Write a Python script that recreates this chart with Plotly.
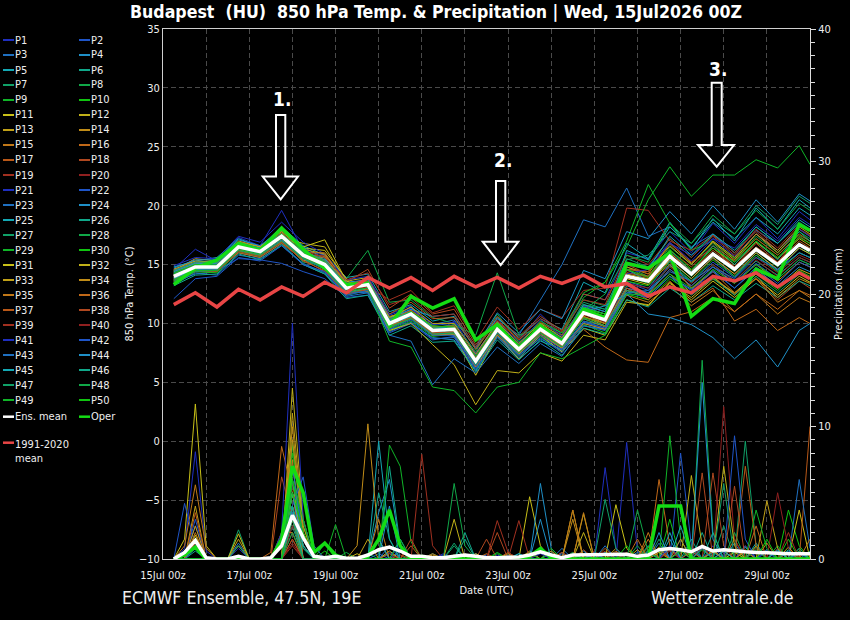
import pandas as pd
import plotly.graph_objects as go

# ---------------- data ----------------
temp_times = list(pd.date_range("2026-07-15 06:00", "2026-07-29 18:00", freq="12h")) + [pd.Timestamp("2026-07-30 00:00")]
precip_times = list(pd.date_range("2026-07-15 06:00", "2026-07-30 00:00", freq="6h"))

member_names = [f"P{i}" for i in range(1, 51)]

ens_mean_temp = [14.0, 14.8, 14.8, 16.5, 16.1, 17.4, 15.8, 15.0, 13.0, 13.3,
                 10.0, 10.8, 9.4, 9.5, 6.8, 9.5, 7.8, 9.5, 8.3, 10.9,
                 10.3, 14.0, 13.6, 15.7, 14.2, 15.9, 14.6, 16.3, 15.0, 16.7, 16.2]
oper_temp = [13.3, 14.7, 15.4, 16.8, 16.2, 18.1, 16.3, 14.7, 13.3, 13.4,
             9.8, 12.3, 11.3, 12.1, 8.6, 9.9, 7.9, 9.8, 8.4, 11.2,
             10.5, 15.1, 14.7, 16.0, 10.6, 12.1, 11.7, 14.6, 13.8, 18.4, 17.9]
clim_temp = [11.6, 12.6, 11.4, 12.9, 12.0, 13.1, 12.3, 13.5, 12.6, 13.9,
             13.0, 13.9, 12.8, 14.0, 13.1, 13.9, 13.0, 14.0, 13.4, 14.1,
             13.1, 13.4, 12.3, 13.1, 12.6, 14.0, 13.6, 14.3, 13.1, 14.3, 13.8]

member_temp = [
 [14.6,16.3,15.3,17.3,16.6,19.6,16.2,15.8,13.6,13.0,10.8,11.5,9.0,10.2,7.5,10.0,8.5,10.8,9.0,12.5,12.0,16.0,15.5,17.8,16.0,18.5,16.8,19.0,17.2,19.5,18.8],
 [13.8,15.2,15.0,16.8,16.4,17.8,15.5,14.6,12.6,13.8,10.5,11.2,10.0,9.8,7.2,10.2,8.2,9.8,8.8,11.4,10.8,13.5,12.8,15.0,13.6,15.2,13.9,15.8,14.4,16.0,15.6],
 [14.3,14.9,15.2,16.2,15.8,17.0,15.9,15.3,13.4,12.9,9.6,10.4,9.9,10.3,7.9,10.4,9.0,12.0,15.0,18.8,18.2,21.5,17.4,18.2,16.5,17.6,16.0,17.9,16.8,18.5,17.9],
 [13.5,14.2,14.4,16.0,15.6,16.8,15.0,14.2,12.5,12.8,9.5,10.0,8.8,8.6,6.0,8.8,7.0,8.5,7.8,9.8,9.5,12.8,12.2,14.0,12.9,14.5,13.0,14.6,13.2,14.8,14.4],
 [14.8,15.3,15.6,17.2,16.5,18.2,16.6,15.8,13.9,14.2,11.0,11.6,10.2,10.6,7.8,10.5,8.8,10.4,9.5,13.5,12.6,16.8,15.5,18.6,16.3,18.9,17.0,19.8,18.0,20.5,19.8],
 [13.9,14.6,14.7,16.3,15.9,17.2,15.4,14.8,12.8,13.4,9.8,10.5,9.2,9.0,6.5,9.2,7.4,9.2,7.9,10.2,9.8,13.2,12.6,14.9,13.5,15.0,13.6,15.3,14.1,15.6,15.2],
 [14.1,15.0,14.9,16.7,16.2,17.6,16.0,15.6,13.4,12.6,10.3,11.0,9.6,9.9,7.0,9.8,8.0,9.9,8.6,11.8,11.2,15.5,14.8,17.2,15.6,17.5,16.0,18.2,16.8,18.6,18.0],
 [13.6,14.5,14.6,16.4,16.0,17.1,15.2,14.9,13.8,16.2,11.8,12.0,10.5,10.0,7.6,10.8,8.4,10.0,9.2,12.0,11.5,14.8,14.0,16.5,15.0,16.8,15.2,17.4,16.0,17.8,17.2],
 [14.2,14.7,14.9,16.6,16.2,17.5,15.9,15.1,12.9,13.1,9.9,10.9,9.5,9.4,6.9,9.6,7.7,9.8,9.0,12.2,13.5,17.0,21.8,18.5,16.2,17.0,15.5,17.2,15.8,17.5,17.0],
 [13.4,14.4,14.3,16.1,15.7,17.0,15.6,14.6,12.4,12.8,9.4,10.2,8.9,9.1,6.4,9.0,7.2,8.9,7.6,9.9,9.2,12.5,12.0,13.8,12.6,13.9,12.5,14.2,12.8,14.5,14.0],
 [14.4,15.1,15.0,16.9,16.5,17.9,16.4,16.2,13.8,13.0,10.4,11.4,9.7,9.0,5.6,9.0,7.0,9.0,7.6,9.6,9.0,12.0,11.5,13.5,12.0,13.6,12.2,13.8,12.4,14.0,13.5],
 [13.7,14.6,14.5,16.4,15.9,17.3,16.8,16.5,13.6,13.9,10.6,11.0,9.0,9.3,6.6,9.4,7.6,9.4,8.0,10.5,10.0,14.2,13.8,16.0,14.5,16.4,15.0,16.9,15.5,17.2,16.6],
 [14.5,15.5,15.3,16.8,16.3,17.2,16.0,15.4,12.8,13.5,10.2,11.1,9.8,9.6,7.0,9.8,7.9,9.6,8.5,11.0,10.5,14.8,14.2,16.8,15.1,16.9,15.4,17.6,16.0,18.0,17.4],
 [13.9,14.5,14.6,16.2,15.8,16.9,15.7,15.6,13.2,12.7,9.7,10.6,9.3,9.7,7.3,9.9,8.1,9.8,8.4,10.6,9.8,13.0,12.5,14.6,13.2,14.8,13.4,15.0,13.6,15.2,14.8],
 [14.1,14.9,15.1,16.6,16.0,17.6,16.3,15.2,13.1,13.6,10.1,10.6,9.1,9.2,6.7,9.3,7.6,9.3,8.1,10.4,9.7,12.4,11.8,13.2,11.5,12.8,11.0,12.5,10.8,12.2,11.8],
 [13.6,14.4,14.5,16.0,15.6,16.8,15.4,14.4,12.6,12.9,9.6,10.4,9.1,9.2,6.6,9.1,7.5,9.0,7.9,9.5,8.0,6.9,6.7,10.5,11.0,12.2,11.0,12.5,11.2,12.8,12.4],
 [14.0,14.7,14.9,16.5,16.2,17.3,16.1,15.3,13.3,13.8,10.8,11.8,10.4,10.5,7.8,10.2,8.6,10.1,9.0,11.5,11.0,14.5,14.0,16.0,14.4,16.2,14.8,16.5,15.2,17.0,16.4],
 [14.3,15.0,14.8,16.6,16.0,17.5,15.7,15.8,13.5,14.6,11.3,12.5,10.8,11.2,8.2,10.6,8.9,10.6,9.4,12.5,12.0,15.0,14.2,15.2,13.0,14.0,12.5,13.8,12.0,13.6,13.0],
 [13.8,14.6,14.7,16.3,16.1,17.1,15.6,14.7,12.9,13.2,12.0,12.8,10.9,11.5,8.5,11.4,9.5,11.2,10.5,12.8,13.0,19.8,19.6,17.0,16.2,17.5,16.0,17.8,16.2,18.0,17.5],
 [14.6,15.2,15.1,16.7,16.4,17.7,16.0,15.0,13.0,13.5,10.2,11.0,9.6,9.8,7.1,9.7,8.0,9.7,8.5,11.2,10.6,14.3,13.9,15.8,14.0,15.5,14.2,15.6,14.3,15.8,15.4],
 [14.9,15.6,15.5,17.4,16.9,18.6,16.9,15.9,13.7,14.0,10.7,11.3,9.9,10.1,7.3,10.1,8.3,10.3,8.9,11.5,11.0,15.2,14.8,16.9,15.3,17.2,15.7,17.6,16.2,18.0,17.4],
 [14.2,15.0,14.5,15.5,15.4,15.1,14.4,13.8,12.2,12.4,9.2,10.0,8.6,8.9,6.2,9.0,7.1,8.8,7.5,10.0,9.5,13.0,12.6,14.6,13.2,14.8,13.5,15.1,13.8,15.4,15.0],
 [13.3,14.3,14.1,15.8,15.5,16.6,15.1,14.3,12.3,12.6,9.3,10.1,8.7,8.8,6.1,8.9,7.3,8.7,7.7,10.1,9.6,13.6,13.0,15.3,13.8,15.6,14.0,16.0,14.5,16.4,15.9],
 [14.7,15.4,15.4,17.1,16.6,18.0,16.5,15.5,13.5,13.7,10.4,11.2,10.6,10.8,8.0,10.9,9.2,11.2,10.4,14.5,13.8,17.8,17.2,19.5,17.6,20.0,18.0,20.5,18.6,21.0,20.4],
 [14.0,14.9,14.6,16.5,16.0,17.3,15.8,15.1,13.1,13.4,10.0,10.7,9.3,9.5,6.8,9.5,7.8,9.6,8.3,11.0,10.4,16.2,15.4,18.2,16.4,18.6,17.2,19.0,17.6,19.8,19.2],
 [13.2,14.1,14.2,15.9,15.4,16.7,15.0,14.2,12.1,12.4,9.0,9.8,8.4,8.5,5.9,8.6,6.9,8.6,7.3,9.6,9.1,12.0,11.4,13.0,11.8,13.2,12.0,13.4,12.2,13.6,13.2],
 [14.4,15.2,15.3,16.9,16.4,17.8,16.2,15.3,13.2,13.6,10.4,11.0,9.6,9.8,7.0,9.8,8.1,9.8,8.7,11.6,11.2,15.4,15.8,17.8,16.8,18.8,17.6,20.0,18.4,20.8,20.2],
 [13.7,14.6,14.6,16.3,15.9,17.2,15.6,14.8,12.8,13.2,9.9,10.6,9.3,9.9,9.0,14.3,9.0,9.6,8.2,10.8,10.2,14.0,13.4,15.6,14.0,15.8,14.4,16.2,14.8,16.6,16.0],
 [14.3,15.0,14.9,16.6,16.1,17.4,15.9,15.2,13.0,13.4,10.1,11.0,9.6,9.6,7.0,9.8,8.2,10.2,9.2,12.6,13.5,16.5,20.5,23.3,20.8,22.6,22.6,23.9,23.2,25.1,23.5],
 [13.5,14.4,14.4,16.2,15.7,17.0,15.5,14.7,12.6,13.0,9.6,10.4,9.0,9.2,6.5,9.2,7.5,9.2,8.0,10.5,10.0,13.6,13.2,15.2,13.6,15.4,14.0,15.8,14.4,16.0,15.6],
 [14.1,14.9,15.0,16.6,16.2,17.4,16.5,17.1,13.6,13.0,10.3,10.9,9.5,9.6,6.9,9.6,7.9,9.6,8.4,10.8,10.0,13.8,13.3,15.4,13.8,15.6,14.2,16.0,14.6,16.4,15.9],
 [13.9,14.7,14.6,16.3,15.9,17.2,15.6,14.8,12.7,12.9,9.4,10.0,8.2,6.5,3.1,6.0,5.8,7.5,6.8,9.0,8.6,11.8,11.6,13.4,12.2,13.8,12.6,14.2,13.0,14.6,14.2],
 [14.6,15.3,15.2,17.0,16.5,17.8,16.3,15.9,13.4,13.2,10.5,11.4,10.0,10.0,7.4,10.1,8.3,10.0,8.8,11.3,10.8,14.6,14.4,16.6,15.0,17.0,15.6,17.6,16.2,18.2,17.6],
 [13.7,14.5,14.5,16.2,15.8,17.0,15.3,15.7,13.2,13.0,9.8,10.5,9.0,9.1,6.3,9.0,7.4,9.1,7.9,10.0,9.5,12.8,12.4,14.2,12.6,14.0,12.4,14.0,12.2,13.8,13.4],
 [14.2,15.1,14.9,16.7,16.2,17.6,16.0,16.0,13.3,13.5,10.2,11.1,9.7,9.7,7.1,9.7,7.9,9.7,8.5,11.0,10.4,14.0,13.5,15.0,13.0,14.4,12.6,13.8,11.8,12.8,12.2],
 [13.8,14.6,14.7,16.4,15.9,17.2,15.7,14.9,12.9,13.2,9.8,10.7,9.2,9.3,6.6,9.3,7.6,9.3,8.1,10.6,10.0,13.0,12.0,13.6,11.8,13.0,10.2,11.2,9.4,10.5,10.0],
 [14.5,15.2,15.1,16.8,16.3,17.7,16.1,15.4,13.4,13.6,10.3,11.1,9.7,9.8,7.1,9.8,8.1,9.8,8.6,11.1,10.6,14.3,14.0,16.2,14.8,16.6,15.3,17.2,15.8,17.6,17.0],
 [13.6,14.4,14.4,16.1,15.7,16.9,15.3,14.5,12.5,12.9,9.7,10.5,9.2,9.3,6.7,9.3,7.7,9.4,8.2,10.7,10.4,14.6,14.4,16.8,15.2,16.4,14.8,16.8,15.2,17.4,16.8],
 [14.1,14.8,14.8,16.5,16.1,17.5,16.2,15.6,13.7,14.3,11.6,12.2,10.6,10.8,8.0,10.3,8.7,10.4,9.3,12.0,11.6,15.8,15.0,17.2,15.6,17.4,15.8,18.0,16.4,18.4,17.8],
 [14.0,14.7,14.7,16.4,16.0,17.3,15.6,14.9,12.8,13.1,9.9,10.8,9.4,9.4,6.8,9.4,7.8,9.4,8.3,10.8,10.1,13.4,13.0,14.8,13.4,15.0,13.6,15.4,14.0,15.6,15.2],
 [14.2,14.9,15.0,16.6,16.3,17.6,15.9,15.1,13.0,13.3,10.1,10.9,9.5,9.6,6.9,9.6,7.9,9.6,8.4,11.0,10.4,14.2,14.6,16.8,15.8,17.2,16.4,18.4,17.0,19.0,18.4],
 [12.1,13.8,14.0,15.6,15.3,16.6,15.0,14.4,12.4,12.8,9.5,10.3,9.0,9.0,6.4,9.2,7.3,9.0,7.8,10.2,9.6,12.6,12.2,14.0,12.8,14.4,13.0,14.8,13.4,15.2,14.8],
 [13.9,14.6,14.6,16.4,15.9,17.1,15.5,14.7,12.7,12.6,9.0,8.5,4.8,7.0,5.8,8.0,6.6,8.3,7.2,9.8,9.4,12.6,12.8,14.4,13.6,14.8,13.8,15.6,14.6,16.0,15.6],
 [14.4,15.1,15.1,16.8,16.3,17.6,16.0,15.2,13.2,13.4,10.2,10.9,9.5,9.6,6.9,9.6,7.9,9.6,8.5,11.0,11.5,12.5,10.8,10.5,9.9,8.8,7.0,8.6,6.3,9.4,10.0],
 [13.8,14.6,14.7,16.4,15.9,17.3,15.7,14.9,12.9,13.2,9.9,10.6,9.3,9.4,6.7,9.4,7.7,9.4,8.2,11.6,11.0,15.0,14.6,17.4,15.8,17.6,16.2,18.2,16.8,18.8,18.2],
 [14.5,15.2,15.2,16.8,16.4,17.6,16.1,15.4,13.3,13.5,10.3,11.0,9.7,9.6,7.0,9.7,8.0,9.8,8.6,11.4,10.8,14.6,13.6,16.2,14.4,16.6,15.0,17.0,15.4,17.8,17.0],
 [13.6,14.4,14.5,16.2,15.8,17.0,15.5,14.6,12.6,13.0,9.7,10.4,9.1,9.2,6.5,9.2,7.5,9.2,8.0,10.4,9.8,12.8,12.4,14.0,12.4,13.8,12.4,14.0,12.6,14.2,13.8],
 [14.3,15.0,15.0,16.7,16.2,17.5,15.9,15.0,13.0,13.4,10.1,10.9,9.5,9.6,6.9,9.6,7.9,9.6,8.4,11.1,12.5,15.8,15.2,18.5,16.8,19.2,17.6,19.6,18.0,20.2,19.6],
 [13.7,14.5,14.5,16.3,15.9,17.2,15.6,14.8,12.8,13.0,8.5,8.0,4.6,4.3,2.4,4.6,5.0,7.5,7.0,8.0,9.0,12.5,12.4,14.2,13.0,14.6,13.4,15.0,13.8,15.4,15.0],
 [14.2,15.0,14.9,16.6,16.2,17.6,16.0,15.2,13.1,13.5,10.0,11.0,9.8,9.7,7.2,9.9,8.0,9.9,8.6,11.3,10.8,14.6,13.9,16.3,14.6,16.4,15.2,17.0,15.6,17.3,16.8],
]

ens_mean_precip = [0, 0.5, 1.4, 0.1, 0, 0, 0.2, 0, 0, 0.1,
                   1.0, 3.3, 1.6, 0.2, 0.1, 0.2, 0.05, 0.05, 0.3, 0.7,
                   0.9, 0.6, 0.2, 0.2, 0.1, 0.1, 0.2, 0.3, 0.2, 0.1,
                   0.1, 0.1, 0.15, 0.3, 0.55, 0.3, 0.1, 0.3, 0.3, 0.3,
                   0.35, 0.3, 0.35, 0.2, 0.3, 0.7, 0.8, 0.7, 0.55, 0.95,
                   0.6, 0.7, 0.6, 0.55, 0.5, 0.45, 0.4, 0.4, 0.4, 0.4]
oper_precip = [0, 0.3, 0.9, 0, 0, 0, 0.1, 0, 0, 0,
               1.5, 7.0, 5.0, 0.5, 1.2, 0.3, 0, 0, 0.2, 1.5,
               3.7, 1.0, 0, 0, 0, 0, 0, 0, 0, 0,
               0, 0, 0, 0.2, 0.8, 0.1, 0, 0, 0, 0,
               0, 0, 0, 0, 0, 4.0, 4.0, 4.0, 0, 0,
               0, 0, 0, 0, 0, 0, 0, 0, 0, 0]

# member precipitation: non-zero 6-hourly amounts {step index: mm}
member_precip_events = [
 {1:0.8, 2:8.1, 3:0.6, 6:0.8, 11:3.0, 12:1.0, 20:0.5, 30:0.3, 36:0.5, 42:8.8, 43:0.6, 47:0.6, 50:1.0, 55:0.5, 58:0.4},
 {2:3.0, 11:6.0, 12:1.5, 19:0.4, 25:0.3, 41:0.5, 47:8.0, 48:1.0, 53:0.6, 56:0.8},
 {2:1.2, 6:1.2, 11:5.0, 12:2.0, 21:0.6, 28:0.4, 36:0.8, 44:0.6, 49:0.8, 52:1.2, 57:0.5},
 {2:1.5, 11:3.5, 19:3.5, 20:6.0, 21:0.8, 31:0.3, 38:0.6, 44:1.0, 50:0.7, 57:0.6},
 {2:1.0, 11:4.0, 12:0.8, 19:8.9, 20:1.5, 24:0.4, 40:0.5, 46:1.5, 53:0.9, 58:0.8},
 {2:0.6, 11:2.5, 20:7.0, 21:1.0, 33:0.5, 42:0.4, 49:2.0, 55:0.7},
 {6:2.2, 11:3.0, 18:0.4, 26:1.2, 35:0.6, 45:1.5, 48:0.8, 51:2.5, 58:0.6},
 {11:7.0, 12:2.0, 16:0.5, 22:0.3, 37:0.5, 43:1.0, 49:15.0, 50:2.0, 54:0.9},
 {11:9.0, 12:3.0, 14:1.2, 20:8.6, 21:7.0, 22:1.3, 30:0.5, 44:0.7, 52:0.6, 56:1.0},
 {11:8.0, 12:2.5, 14:0.6, 27:0.4, 39:0.5, 46:3.0, 50:0.6, 57:3.7, 58:1.0},
 {1:1.5, 2:11.7, 3:1.0, 6:1.9, 11:3.0, 20:0.6, 33:4.7, 34:1.0, 45:0.8, 52:0.5, 58:3.7},
 {6:1.0, 11:12.9, 12:3.0, 17:0.4, 33:0.6, 38:3.4, 43:0.7, 48:6.3, 49:1.0, 57:0.9},
 {2:4.0, 6:1.5, 11:6.0, 18:1.5, 26:0.3, 37:3.7, 41:0.8, 46:0.8, 54:1.0, 58:0.6},
 {2:1.3, 11:10.0, 12:2.0, 17:1.0, 18:10.2, 19:1.5, 35:0.6, 45:0.9, 50:0.7, 55:1.2},
 {1:1.0, 2:5.6, 3:0.8, 11:7.5, 19:3.0, 24:0.4, 37:3.7, 41:0.6, 44:1.5, 53:1.0},
 {9:0.5, 10:8.5, 11:5.0, 20:0.4, 34:0.6, 45:6.0, 46:1.0, 49:0.8, 52:1.5, 57:0.5},
 {2:3.5, 11:5.0, 22:1.0, 31:0.5, 40:0.8, 46:0.9, 53:0.7, 59:10.0},
 {10:6.2, 11:3.0, 21:0.3, 29:1.5, 38:0.7, 44:0.9, 50:6.5, 51:1.0, 56:0.6},
 {11:2.0, 23:7.9, 24:1.0, 32:2.9, 40:0.6, 49:1.0, 54:0.8},
 {11:2.5, 12:1.0, 27:0.4, 39:0.6, 46:0.7, 51:11.5, 52:1.5, 56:0.8},
 {2:2.5, 11:4.0, 12:1.0, 25:0.4, 40:6.9, 41:0.8, 48:0.6, 53:1.0},
 {1:4.2, 2:1.0, 11:3.0, 12:1.5, 29:0.3, 39:0.5, 47:1.5, 55:0.7},
 {2:1.0, 11:3.5, 20:1.0, 36:0.4, 45:1.2, 51:0.6, 58:6.0, 59:0.8},
 {11:6.0, 12:1.5, 20:4.0, 34:5.7, 35:0.8, 43:0.5, 49:13.3, 50:1.5, 56:0.6},
 {11:5.0, 12:1.0, 21:1.5, 32:0.4, 46:2.0, 50:0.5, 54:1.2},
 {11:3.0, 19:5.0, 20:1.5, 27:2.0, 38:0.4, 48:1.5, 57:0.7},
 {6:1.0, 11:3.0, 12:0.8, 26:1.0, 41:0.5, 53:8.9, 54:1.0, 59:0.6},
 {11:4.0, 26:5.7, 27:1.0, 35:0.4, 44:1.0, 52:2.0, 58:0.8},
 {11:8.5, 12:2.0, 15:2.6, 30:0.4, 46:9.3, 47:1.5, 55:0.6},
 {11:6.0, 12:1.5, 23:0.3, 35:0.8, 49:0.7, 57:1.5},
 {2:1.8, 11:5.0, 12:1.0, 28:0.4, 41:4.1, 42:0.8, 51:0.6},
 {11:4.0, 26:3.0, 38:2.0, 45:0.5, 51:7.0, 52:1.0},
 {2:2.5, 11:11.0, 12:2.5, 31:0.4, 47:0.8, 55:4.4, 56:0.8},
 {11:9.0, 12:2.0, 24:0.3, 37:3.0, 47:1.5, 53:0.6},
 {2:2.0, 11:3.0, 33:0.5, 38:3.5, 44:2.0, 50:0.6, 59:1.5},
 {10:2.0, 11:2.0, 29:0.4, 43:1.5, 48:0.6, 54:2.5},
 {2:1.2, 11:1.5, 36:0.5, 45:0.7, 53:7.0, 54:1.0},
 {11:1.5, 22:1.5, 30:2.0, 42:0.5, 49:6.5, 52:5.5},
 {11:1.0, 30:2.9, 31:0.5, 46:0.6, 57:2.0},
 {11:1.2, 27:0.3, 41:0.5, 56:5.0, 57:0.8},
 {10:2.0, 11:17.8, 12:3.0, 34:0.4, 46:1.0, 55:0.6},
 {11:4.0, 12:6.2, 13:1.0, 39:0.4, 52:9.3, 53:1.5},
 {2:0.8, 11:7.0, 12:1.5, 27:0.3, 40:1.0, 49:0.8, 58:0.5},
 {11:5.0, 12:1.0, 34:3.0, 45:2.0, 51:0.6},
 {11:4.0, 19:1.5, 32:0.4, 47:2.5, 56:0.7},
 {11:4.0, 12:1.0, 27:1.5, 44:0.5, 50:2.0},
 {11:3.0, 37:0.4, 40:4.5, 41:0.8, 51:5.7, 58:0.6},
 {11:2.0, 21:1.5, 43:3.7, 44:0.5, 54:0.7},
 {11:6.0, 12:3.0, 33:0.4, 47:0.6, 54:3.7, 55:0.8},
 {11:5.0, 12:2.0, 26:0.3, 42:1.0, 55:1.5},
]

x_range = ["2026-07-15 00:00", "2026-07-30 00:00"]

# ---------------- style ----------------
MEMBER_COLORS = ['#1f2fbf', '#1f55c8', '#1f70c0', '#1f90c8', '#14a8b4', '#10a88a', '#10a068', '#10a848',
                 '#10b428', '#10c410', '#c8c018', '#c0b018', '#c0a018', '#c08c18', '#c07818', '#c06818',
                 '#b85818', '#b04820', '#a03020', '#902020']
OPER_COLOR = '#14dc14'
MEAN_COLOR = '#ffffff'
CLIM_COLOR = '#e84545'
FONT = "DejaVu Sans Condensed, DejaVu Sans"
TXT = '#eeeeee'
GRID = '#4a4a4a'

W, H = 850, 620
L, R, T, B = 163, 40, 29, 61
PW, PH = W - L - R, H - T - B


def px(x):
    return (x - L) / PW


def py(y):
    return (H - B - y) / PH


fig = go.Figure()

n_steps = len(precip_times)
for k, ev in enumerate(member_precip_events):
    vals = [ev.get(i, 0.0) for i in range(n_steps)]
    fig.add_trace(go.Scatter(x=precip_times, y=vals, yaxis='y2', mode='lines',
                             line=dict(color=MEMBER_COLORS[k % 20], width=1), showlegend=False,
                             name=member_names[k]))
for k, vals in enumerate(member_temp):
    fig.add_trace(go.Scatter(x=temp_times, y=vals, mode='lines',
                             line=dict(color=MEMBER_COLORS[k % 20], width=1), showlegend=False,
                             name=member_names[k]))

fig.add_trace(go.Scatter(x=precip_times, y=oper_precip, yaxis='y2', mode='lines',
                         line=dict(color=OPER_COLOR, width=3.5), showlegend=False, name='Oper'))
fig.add_trace(go.Scatter(x=temp_times, y=oper_temp, mode='lines',
                         line=dict(color=OPER_COLOR, width=3.5), showlegend=False, name='Oper'))
fig.add_trace(go.Scatter(x=precip_times, y=ens_mean_precip, yaxis='y2', mode='lines',
                         line=dict(color=MEAN_COLOR, width=3.5), showlegend=False, name='Ens. mean'))
fig.add_trace(go.Scatter(x=temp_times, y=ens_mean_temp, mode='lines',
                         line=dict(color=MEAN_COLOR, width=3.5), showlegend=False, name='Ens. mean'))
fig.add_trace(go.Scatter(x=temp_times, y=clim_temp, mode='lines',
                         line=dict(color=CLIM_COLOR, width=3.5), showlegend=False, name='1991-2020 mean'))

shapes = []
annots = []
LEG_FONT = dict(family=FONT, size=11, color=TXT)

# legend (drawn manually to match the two-column layout)
for k in range(50):
    col, row = k % 2, k // 2
    y = 40 + 15 * row
    x0 = 3 if col == 0 else 79
    shapes.append(dict(type='line', xref='paper', yref='paper', x0=px(x0), x1=px(x0 + 11),
                       y0=py(y), y1=py(y), line=dict(color=MEMBER_COLORS[k % 20], width=2)))
    annots.append(dict(text=member_names[k], xref='paper', yref='paper', x=px(x0 + 10), y=py(y),
                       xanchor='left', yanchor='middle', showarrow=False, font=LEG_FONT))
extra = [(3, 416.7, MEAN_COLOR, 'Ens. mean'), (79, 416.7, OPER_COLOR, 'Oper')]
for x0, y, c, t in extra:
    shapes.append(dict(type='line', xref='paper', yref='paper', x0=px(x0), x1=px(x0 + 11),
                       y0=py(y), y1=py(y), line=dict(color=c, width=2.5)))
    annots.append(dict(text=t, xref='paper', yref='paper', x=px(x0 + 10), y=py(y),
                       xanchor='left', yanchor='middle', showarrow=False, font=LEG_FONT))
shapes.append(dict(type='line', xref='paper', yref='paper', x0=px(3), x1=px(14),
                   y0=py(442.7), y1=py(442.7), line=dict(color=CLIM_COLOR, width=2.5)))
annots.append(dict(text='1991-2020<br>mean', xref='paper', yref='paper', x=px(13), y=py(435.5),
                   xanchor='left', yanchor='top', align='left', showarrow=False, font=LEG_FONT))

# arrows
arrows = [
    (276, 285.3, 115, 176.5, 262.7, 298, 280.7, 199.3, '1.', 282, 99),
    (496, 505.3, 181, 241.7, 482.7, 518.3, 500.7, 265, '2.', 503, 160),
    (711.7, 721.7, 82.7, 145, 698, 734, 716.7, 166.7, '3.', 718, 69),
]
for (sl, sr, top, hb, hl, hr, tx, ty, lab, lx, ly) in arrows:
    pts = [(sl, top), (sr, top), (sr, hb), (hr, hb), (tx, ty), (hl, hb), (sl, hb)]
    path = 'M ' + ' L '.join(f'{px(a):.5f},{py(b):.5f}' for a, b in pts) + ' Z'
    shapes.append(dict(type='path', xref='paper', yref='paper', path=path,
                       line=dict(color='white', width=2), fillcolor='rgba(0,0,0,0)', layer='above'))
    annots.append(dict(text=f'<b>{lab}</b>', xref='paper', yref='paper', x=px(lx), y=py(ly),
                       xanchor='center', yanchor='middle', showarrow=False,
                       font=dict(family=FONT, size=19, color='white')))

# title and footer
annots.append(dict(text='<b>Budapest  (HU)  850 hPa Temp. &amp; Precipitation | Wed, 15Jul2026 00Z</b>',
                   xref='paper', yref='paper', x=px(435.5), y=py(12), xanchor='center', yanchor='middle',
                   showarrow=False, font=dict(family=FONT, size=17.6, color='white')))
annots.append(dict(text='ECMWF Ensemble, 47.5N, 19E', xref='paper', yref='paper', x=px(241), y=py(598),
                   xanchor='center', yanchor='middle', showarrow=False,
                   font=dict(family=FONT, size=17.6, color=TXT)))
annots.append(dict(text='Wetterzentrale.de', xref='paper', yref='paper', x=px(721.5), y=py(598),
                   xanchor='center', yanchor='middle', showarrow=False,
                   font=dict(family=FONT, size=17.6, color=TXT)))

fig.update_layout(
    width=W, height=H,
    margin=dict(l=L, r=R, t=T, b=B, autoexpand=False),
    paper_bgcolor='black', plot_bgcolor='black',
    showlegend=False,
    font=dict(family=FONT, color=TXT, size=11),
    shapes=shapes, annotations=annots,
    xaxis=dict(type='date', range=x_range, tickformat='%d%b %Hz', dtick=2 * 86400000,
               tick0='2026-07-15', showgrid=True, gridcolor=GRID, griddash='5px,3px', gridwidth=1,
               minor=dict(dtick=86400000, showgrid=True, gridcolor=GRID, griddash='5px,3px'),
               ticks='', ticklabelstandoff=6, showline=True, linecolor='#cfcfcf', linewidth=1,
               mirror=True, zeroline=False, automargin=False,
               tickfont=dict(family=FONT, size=11, color=TXT),
               title=dict(text='Date (UTC)', font=dict(family=FONT, size=11, color=TXT), standoff=5)),
    yaxis=dict(range=[-10, 35], dtick=5, tick0=-10, showgrid=True, gridcolor=GRID, griddash='5px,3px',
               zeroline=False, ticks='', showline=True, linecolor='#cfcfcf', linewidth=1, automargin=False,
               tickfont=dict(family=FONT, size=11, color=TXT),
               title=dict(text='850 hPa Temp. (°C)', font=dict(family=FONT, size=11, color=TXT), standoff=3)),
    yaxis2=dict(range=[0, 40], dtick=10, overlaying='y', side='right', anchor='x', showgrid=False,
                zeroline=False, ticks='outside', ticklen=5, tickcolor='#dddddd', showline=True,
                linecolor='#dddddd', linewidth=1, automargin=False,
                minor=dict(dtick=1, ticks='outside', ticklen=4, tickcolor='#dddddd'),
                tickfont=dict(family=FONT, size=11, color=TXT),
                title=dict(text='Precipitation (mm)', font=dict(family=FONT, size=11, color=TXT), standoff=4)),
)

fig.write_html('out.html')
